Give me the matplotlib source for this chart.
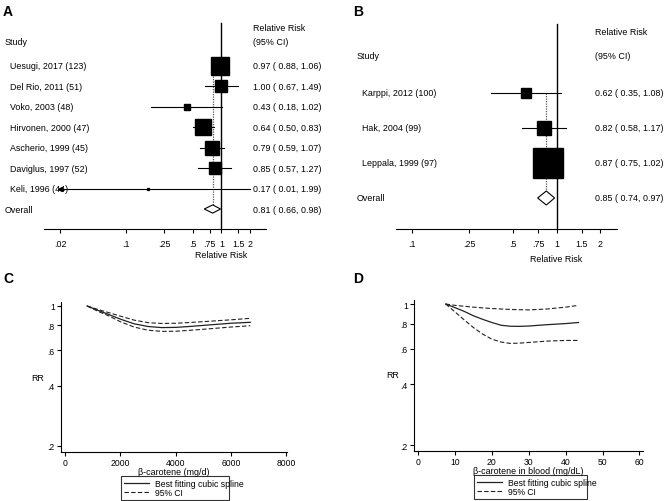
import numpy as np
import matplotlib.pyplot as plt
from matplotlib.patches import Polygon
from matplotlib.lines import Line2D
from matplotlib.ticker import NullLocator
from matplotlib.transforms import blended_transform_factory

plt.rcParams['font.family'] = ['Liberation Sans', 'DejaVu Sans']
FS = 6.4

# ---- panel A: dietary beta-carotene, forest plot ----
a_studies = ["Uesugi, 2017 (123)", "Del Rio, 2011 (51)", "Voko, 2003 (48)",
             "Hirvonen, 2000 (47)", "Ascherio, 1999 (45)", "Daviglus, 1997 (52)",
             "Keli, 1996 (44)"]
a_rr = [0.97, 1.00, 0.43, 0.64, 0.79, 0.85, 0.17]
a_lo = [0.88, 0.67, 0.18, 0.50, 0.59, 0.57, 0.01]
a_hi = [1.06, 1.49, 1.02, 0.83, 1.07, 1.27, 1.99]
a_weight = [29.3, 13.7, 4.0, 20.8, 18.2, 13.7, 0.3]
a_overall = [0.81, 0.66, 0.98]
a_ticks = [0.02, 0.1, 0.25, 0.5, 0.75, 1, 1.5, 2]
a_ticklabels = [".02", ".1", ".25", ".5", ".75", "1", "1.5", "2"]

# ---- panel B: blood beta-carotene, forest plot ----
b_studies = ["Karppi, 2012 (100)", "Hak, 2004 (99)", "Leppala, 1999 (97)"]
b_rr = [0.62, 0.82, 0.87]
b_lo = [0.35, 0.58, 0.75]
b_hi = [1.08, 1.17, 1.02]
b_weight = [7.0, 15.0, 78.0]
b_overall = [0.85, 0.74, 0.97]
b_ticks = [0.1, 0.25, 0.5, 0.75, 1, 1.5, 2]
b_ticklabels = [".1", ".25", ".5", ".75", "1", "1.5", "2"]

# ---- panel C: dose-response, intake (mg/d) ----
c_x = [800, 1200, 1600, 2000, 2500, 3000, 3500, 4000, 4500, 5000, 5500, 6000, 6700]
c_rr = [1.0, 0.95, 0.905, 0.86, 0.815, 0.79, 0.78, 0.782, 0.79, 0.80, 0.81, 0.82, 0.829]
c_up = [1.0, 0.96, 0.925, 0.89, 0.85, 0.826, 0.818, 0.82, 0.827, 0.835, 0.844, 0.853, 0.868]
c_lo = [1.0, 0.94, 0.89, 0.835, 0.785, 0.757, 0.747, 0.748, 0.756, 0.765, 0.775, 0.785, 0.797]

# ---- panel D: dose-response, blood level (mg/dL) ----
d_x = [7.5, 10, 12.5, 15, 17.5, 20, 22.5, 25, 27.5, 30, 35, 40, 43.5]
d_rr = [1.0, 0.96, 0.92, 0.875, 0.84, 0.81, 0.785, 0.776, 0.775, 0.778, 0.79, 0.80, 0.81]
d_up = [1.0, 0.985, 0.975, 0.965, 0.957, 0.95, 0.945, 0.94, 0.937, 0.935, 0.945, 0.965, 0.985]
d_lo = [1.0, 0.915, 0.835, 0.765, 0.71, 0.67, 0.648, 0.638, 0.64, 0.645, 0.655, 0.66, 0.66]

rr_ticks = [0.2, 0.4, 0.6, 0.8, 1]
rr_ticklabels = [".2", ".4", ".6", ".8", "1"]

W, H = 669, 502
fig = plt.figure(figsize=(W / 100, H / 100), dpi=100)


def fx(px):
    return px / W


def fy(py):
    return 1 - py / H


def box(x0, x1, y0, y1):
    return [fx(x0), fy(y1), (x1 - x0) / W, (y1 - y0) / H]


def forest(rect, names, rr, lo, hi, weight, overall, ticks, ticklabels,
           xlim, row0, step, study_x, name_x, col_x, head1_y, head2_y,
           line_top, xlabel_y):
    ax = fig.add_axes(rect)
    n = len(names)
    top_px, bot_px = H * (1 - rect[1] - rect[3]), H * (1 - rect[1])
    ax.set_ylim((bot_px - row0) / step, (top_px - row0) / step)
    ax.set_xscale("log")
    ax.set_xlim(*xlim)
    for s in ["left", "top", "right"]:
        ax.spines[s].set_visible(False)
    ax.spines["bottom"].set_linewidth(0.8)
    ax.set_yticks([])
    ax.set_xticks(ticks)
    ax.set_xticklabels(ticklabels)
    ax.xaxis.set_minor_locator(NullLocator())
    ax.tick_params(axis="x", length=3, width=0.8, pad=4, labelsize=FS)

    tr = blended_transform_factory(fig.transFigure, ax.transData)
    y_head1 = (head1_y - row0) / step
    y_head2 = (head2_y - row0) / step
    ax.text(fx(study_x), y_head2, "Study", transform=tr, fontsize=FS, va="center")
    ax.text(fx(col_x), y_head1, "Relative Risk", transform=tr, fontsize=FS, va="center")
    ax.text(fx(col_x), y_head2, "(95% CI)", transform=tr, fontsize=FS, va="center")

    # null line and overall line
    ax.plot([1, 1], [(line_top - row0) / step, ax.get_ylim()[0]], color="black", lw=1, clip_on=False)
    ax.plot([overall[0]] * 2, [0, n - 0.2], color="#555555", lw=0.9, ls=(0, (1, 1)), zorder=1)

    xmin = ticks[0]
    for i in range(n):
        l = max(lo[i], xmin)
        ax.plot([l, hi[i]], [i, i], color="black", lw=0.8, zorder=2)
        if lo[i] < xmin:
            ax.plot(l, i, marker="<", ms=3, color="black", zorder=2)
        ax.plot(rr[i], i, marker="s", ms=3.45 * np.sqrt(weight[i]) * 0.72,
                color="black", mec="black", zorder=3)
        ax.text(fx(name_x), i, names[i], transform=tr, fontsize=FS, va="center")
        ax.text(fx(col_x), i, f"{rr[i]:.2f} ( {lo[i]:.2f}, {hi[i]:.2f})",
                transform=tr, fontsize=FS, va="center")

    o, ol, oh = overall
    dia = Polygon([[ol, n], [o, n - 0.2], [oh, n], [o, n + 0.2]], closed=True,
                  facecolor="white", edgecolor="black", lw=0.8, zorder=3)
    ax.add_patch(dia)
    ax.text(fx(study_x), n, "Overall", transform=tr, fontsize=FS, va="center")
    ax.text(fx(col_x), n, f"{o:.2f} ( {ol:.2f}, {oh:.2f})", transform=tr,
            fontsize=FS, va="center")
    trx = blended_transform_factory(ax.transData, fig.transFigure)
    ax.text(1, fy(xlabel_y), "Relative Risk", transform=trx, fontsize=FS,
            ha="center", va="center")
    return ax


forest(box(44, 266, 20, 230), a_studies, a_rr, a_lo, a_hi, a_weight, a_overall,
       a_ticks, a_ticklabels, (0.01357, 2.95), 67, 20.43, 5, 10, 253, 29, 43, 24, 256)
forest(box(396, 617, 20, 230), b_studies, b_rr, b_lo, b_hi, b_weight, b_overall,
       b_ticks, b_ticklabels, (0.0776, 2.62), 94, 35, 357, 362, 595, 33, 57, 25, 260)


def spline(rect, x, rr, up, lo, xlim, ylim, xticks, xlabel, rr_pos, leg_rect):
    ax = fig.add_axes(rect)
    ax.plot(x, rr, color="#222222", lw=0.9)
    ax.plot(x, up, color="#222222", lw=0.8, ls=(0, (4, 2)))
    ax.plot(x, lo, color="#222222", lw=0.8, ls=(0, (4, 2)))
    ax.set_yscale("log")
    ax.set_xlim(*xlim)
    ax.set_ylim(*ylim)
    ax.set_yticks(rr_ticks)
    ax.set_yticklabels(rr_ticklabels)
    ax.yaxis.set_minor_locator(NullLocator())
    ax.set_xticks(xticks)
    ax.set_xticklabels([str(t) for t in xticks])
    for s in ["top", "right"]:
        ax.spines[s].set_visible(False)
    for s in ["left", "bottom"]:
        ax.spines[s].set_linewidth(0.8)
    ax.tick_params(length=3, width=0.8, pad=1.5, labelsize=FS - 0.2)
    ax.set_xlabel(xlabel, fontsize=FS, labelpad=0)
    fig.text(fx(rr_pos[0]), fy(rr_pos[1]), "RR", fontsize=FS, ha="center", va="center")
    handles = [Line2D([], [], color="#222222", lw=0.9),
               Line2D([], [], color="#222222", lw=0.8, ls=(0, (4, 2)))]
    leg = fig.legend(handles, ["Best fitting cubic spline", "95% CI"],
                     loc="upper left", mode="expand",
                     bbox_to_anchor=(fx(leg_rect[0]), fy(leg_rect[3]),
                                     (leg_rect[1] - leg_rect[0]) / W,
                                     (leg_rect[3] - leg_rect[2]) / H),
                     fontsize=FS - 0.2, fancybox=False, edgecolor="black",
                     handlelength=3.0, handletextpad=0.6, labelspacing=0.1,
                     borderpad=0.3, borderaxespad=0)
    leg.get_frame().set_linewidth(0.8)
    return ax


spline(box(61, 287, 303, 453), c_x, c_rr, c_up, c_lo, (-145, 8030), (0.1866, 1.047),
       [0, 2000, 4000, 6000, 8000], "β-carotene (mg/d)", (38, 379), (121, 229, 477, 502))
spline(box(414, 643, 301, 452), d_x, d_rr, d_up, d_lo, (-1.08, 60.97), (0.1869, 1.047),
       [0, 10, 20, 30, 40, 50, 60], "β-carotene in blood (mg/dL)", (393, 376),
       (474, 587, 476, 502))

for lab, px, py in [("A", 3, 12), ("B", 353, 12), ("C", 3, 279), ("D", 353, 279)]:
    fig.text(fx(px), fy(py), lab, fontsize=10, fontweight="bold", va="center")

fig.savefig("out.png", dpi=100)
